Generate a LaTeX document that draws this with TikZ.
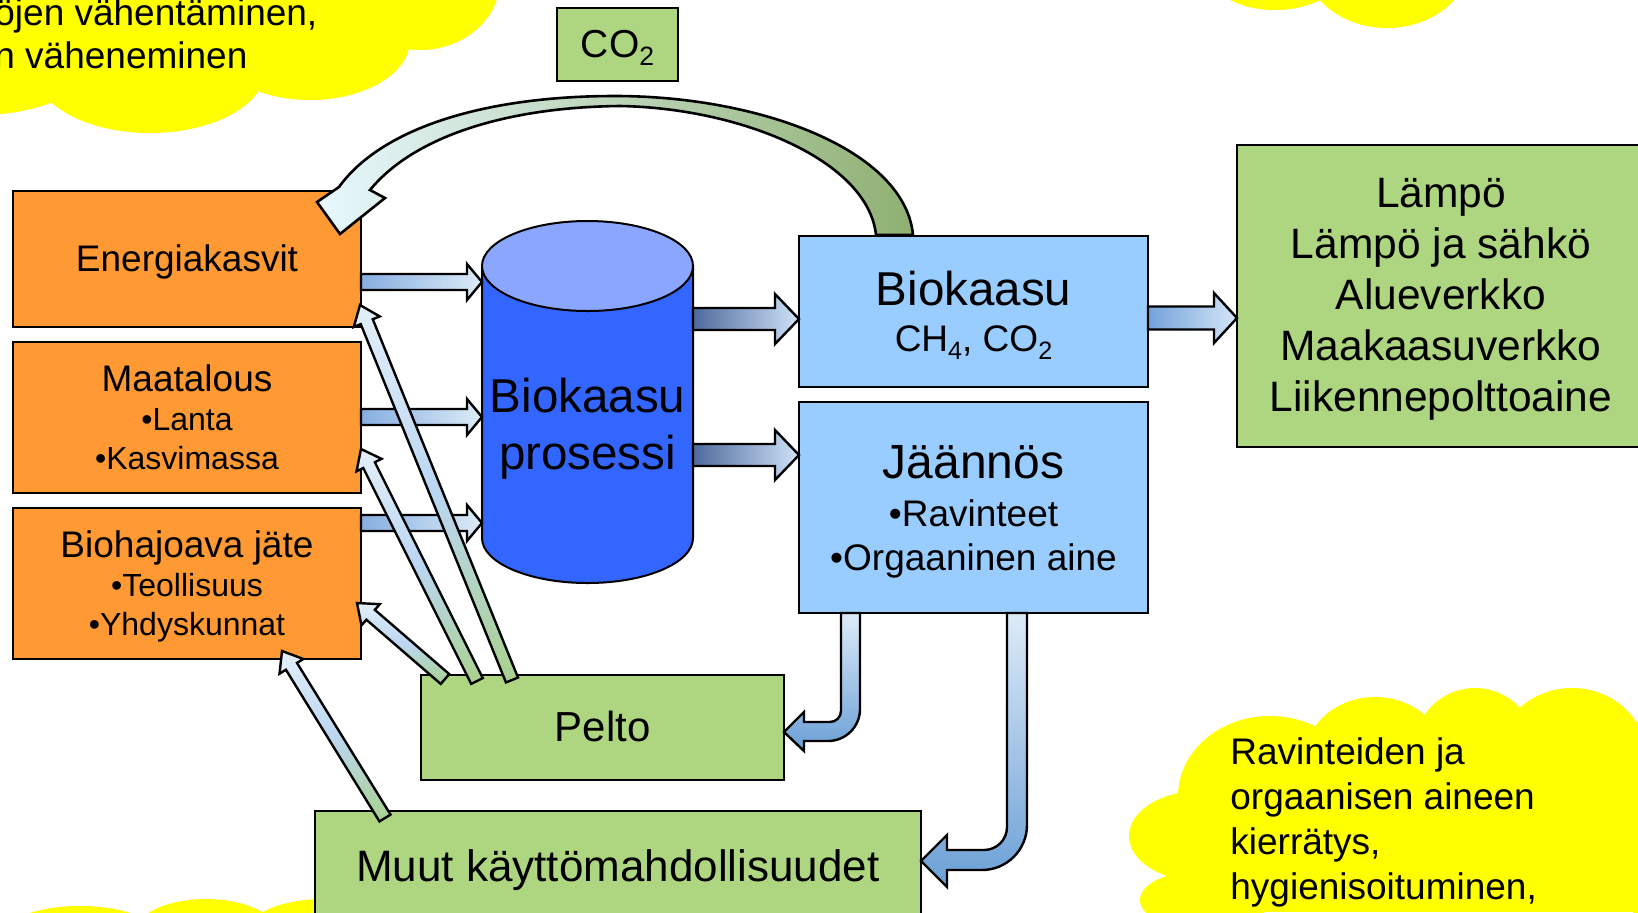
\documentclass[tikz,border=0pt]{standalone}
\usepackage{fontspec}
\setmainfont{Liberation Sans}
\usetikzlibrary{calc}
\definecolor{orng}{HTML}{FF9933}
\definecolor{lblue}{HTML}{99CCFF}
\definecolor{lgreen}{HTML}{AED580}
\definecolor{cylbody}{HTML}{3366FF}
\definecolor{cyltop}{HTML}{8AA6FF}
\definecolor{ylw}{HTML}{FFFF00}
\definecolor{arrA}{HTML}{86AEE0}
\definecolor{arrB}{HTML}{DDEBF8}
\definecolor{arrD}{HTML}{4E6A9C}
\definecolor{arrE}{HTML}{CFE2F7}
\definecolor{arrF}{HTML}{74A2DA}
\definecolor{arrG}{HTML}{D4E5F8}
\definecolor{dgT}{HTML}{E3EFFA}
\definecolor{dgM}{HTML}{BBD6F2}
\definecolor{dgB}{HTML}{A9D18E}
\definecolor{cuT}{HTML}{DDEBF8}
\definecolor{cuB}{HTML}{6A9FD6}
\definecolor{coL}{HTML}{E8F8FF}
\definecolor{coM}{HTML}{D3EBEF}
\definecolor{coR}{HTML}{8FB072}
\newcommand{\fs}[2]{\fontsize{#1}{#2}\selectfont}
\newcommand{\tst}{\rule{0pt}{0.9em}}
\newcommand{\bst}{\rule[-0.25em]{0pt}{0.25em}}
\newcommand{\sbs}[1]{\raisebox{-0.22em}{\scalebox{0.68}{#1}}}
\newcommand{\blockarr}[6]{%
  \coordinate (bah) at ($(#3)!#6!(#2)$);
  \path[#1] ($(#2)!#4!90:(#3)$) -- ($(bah)!#4!90:(#3)$) -- ($(bah)!#5!90:(#3)$) -- (#3)
    -- ($(bah)!#5!-90:(#3)$) -- ($(bah)!#4!-90:(#3)$) -- ($(#2)!#4!-90:(#3)$) -- cycle;}
\tikzset{
  bx/.style={draw=black, line width=1pt, inner sep=0pt, align=center, text=black},
  obox/.style={bx, fill=orng, minimum width=174pt},
  gbox/.style={bx, fill=lgreen},
  bbox/.style={bx, fill=lblue, minimum width=174.5pt},
  arr/.style={draw=black, line width=1.2pt, line join=miter},
  inarr/.style={arr, left color=arrA, right color=arrB},
  outarr/.style={arr, left color=arrD, right color=arrE},
  outarrb/.style={arr, left color=arrF, right color=arrG},
  diag/.style={arr, top color=dgT, bottom color=dgB, middle color=dgM},
  bendarr/.style={arr, top color=cuT, bottom color=cuB},
  cloudpart/.style={fill=ylw, draw=none},
  ctext/.style={anchor=base west, inner sep=0pt, font=\fs{18.5}{22}},
}
\begin{document}
\begin{tikzpicture}[x=0.5pt, y=-0.5pt]
\useasboundingbox (0,0) rectangle (1638,912);
\clip (0,0) rectangle (1638,912);
\fill[white] (0,0) rectangle (1638,912);
% clouds: top left
\path[cloudpart] (0,0) rectangle (400,60);
\path[cloudpart] (-20,40) ellipse [x radius=65pt, y radius=37.5pt];
\path[cloudpart] (150,70) ellipse [x radius=57.5pt, y radius=31.5pt];
\path[cloudpart] (310,40) ellipse [x radius=50pt, y radius=30pt];
\path[cloudpart] (420,-20) ellipse [x radius=40pt, y radius=35pt];
% top right
\path[cloudpart] (1275,-30) ellipse [x radius=34pt, y radius=20pt];
\path[cloudpart] (1387,-40) ellipse [x radius=41.5pt, y radius=34pt];
% bottom left
\path[cloudpart] (80,940) ellipse [x radius=41.5pt, y radius=17pt];
\path[cloudpart] (206,935) ellipse [x radius=36.5pt, y radius=18pt];
\path[cloudpart] (323,935) ellipse [x radius=39pt, y radius=18pt];
% bottom right
\path[cloudpart] (1200,770) rectangle (1638,912);
\path[cloudpart] (1205,900) ellipse [x radius=32.5pt, y radius=15pt];
\path[cloudpart] (1200,836) ellipse [x radius=35.5pt, y radius=22.5pt];
\path[cloudpart] (1270,796) ellipse [x radius=46pt, y radius=40pt];
\path[cloudpart] (1375,758) ellipse [x radius=35pt, y radius=30.5pt];
\path[cloudpart] (1475,752) ellipse [x radius=31pt, y radius=32pt];
\path[cloudpart] (1572,758) ellipse [x radius=37.5pt, y radius=35pt];
\path[cloudpart] (1660,820) ellipse [x radius=25pt, y radius=55pt];
% cloud texts
\node[ctext] (t1) at (-6,25) {öjen vähentäminen,};
\node[ctext] (t2) at (-6,68) {n väheneminen};
\node[ctext] (t3) at (1230,764) {Ravinteiden ja};
\node[ctext] (t4) at (1230,809) {orgaanisen aineen};
\node[ctext] (t5) at (1230,854) {kierrätys,};
\node[ctext] (t6) at (1230,899) {hygienisoituminen,};
% cylinder
\draw[line width=1pt, fill=cylbody] (482,266) -- (482,538) arc [start angle=180, end angle=360, x radius=52.75pt, y radius=22.5pt] -- (693,266) -- cycle;
\draw[line width=1pt, fill=cyltop] (587.5,266) ellipse [x radius=52.75pt, y radius=22.5pt];
\node[font=\fs{23.75}{28.5}, align=center, inner sep=0pt] (cyl) at (587.5,426) {\tst Biokaasu\\prosessi\bst};
% boxes
\node[obox, minimum height=68pt] (en) at (187,259) {\fs{18.5}{22}\tst Energiakasvit\bst};
\node[obox, minimum height=75.5pt, font=\fs{16}{19.5}] (ma) at (187,417.5) {{\fs{18.5}{19.5}\tst Maatalous}\\•Lanta\\•Kasvimassa\bst};
\node[obox, minimum height=75.5pt, font=\fs{16}{19.5}] (bj) at (187,583.5) {{\fs{18.5}{19.5}\tst Biohajoava jäte}\\•Teollisuus\\•Yhdyskunnat\bst};
\node[gbox, minimum width=60.5pt, minimum height=36.5pt] (co) at (617.5,44.5) {\fs{19.5}{22}\tst CO\sbs{2}\bst};
\node[bbox, minimum height=75.5pt, font=\fs{18.5}{23}] (bk) at (973.5,311.5) {{\fs{23.75}{23}\tst Biokaasu}\\CH\sbs{4}, CO\sbs{2}\bst};
\node[bbox, minimum height=105.5pt, font=\fs{18.5}{22}] (jn) at (973.5,507.5) {{\fs{24}{22}\tst Jäännös}\\[2pt]•Ravinteet\\•Orgaaninen aine\bst};
\node[gbox, minimum width=204pt, minimum height=151pt, font=\fs{21.25}{25.5}] (ht) at (1441,296) {\tst Lämpö\\Lämpö ja sähkö\\Alueverkko\\Maakaasuverkko\\Liikennepolttoaine\bst};
\node[gbox, minimum width=181.5pt, minimum height=52.5pt] (pe) at (602.5,727.5) {\fs{21}{24}\tst Pelto\bst};
\node[gbox, minimum width=303pt, minimum height=56.5pt] (mu) at (618,867.5) {\fs{22}{26}\tst Muut käyttömahdollisuudet\bst};
% input arrows
\coordinate (i1s) at (361,282); \coordinate (i1e) at (482,282);
\coordinate (i2s) at (361,417); \coordinate (i2e) at (482,417);
\coordinate (i3s) at (361,523); \coordinate (i3e) at (482,523);
\blockarr{inarr}{i1s}{i1e}{4pt}{9pt}{7.5pt}
\blockarr{inarr}{i2s}{i2e}{4pt}{9pt}{7.5pt}
\blockarr{inarr}{i3s}{i3e}{4pt}{9pt}{7.5pt}
% output arrows
\coordinate (o1s) at (693,319); \coordinate (o1e) at (799,319);
\coordinate (o2s) at (693,455); \coordinate (o2e) at (799,455);
\coordinate (o3s) at (1148,318); \coordinate (o3e) at (1237,318);
\blockarr{outarr}{o1s}{o1e}{5.5pt}{12.5pt}{12pt}
\blockarr{outarr}{o2s}{o2e}{5.5pt}{12.5pt}{12pt}
\blockarr{outarrb}{o3s}{o3e}{5.75pt}{12.5pt}{11.5pt}
% diagonal arrows from Pelto and Muut
\coordinate (d1s) at (512,680); \coordinate (d1e) at (360,305);
\coordinate (d2s) at (477,681); \coordinate (d2e) at (361,449);
\coordinate (d3s) at (445,679); \coordinate (d3e) at (357,603);
\coordinate (d4s) at (385,818); \coordinate (d4e) at (282,651);
\blockarr{diag}{d1s}{d1e}{3.25pt}{7pt}{9pt}
\blockarr{diag}{d2s}{d2e}{3.25pt}{7pt}{9pt}
\blockarr{diag}{d3s}{d3e}{3.25pt}{7pt}{9pt}
\blockarr{diag}{d4s}{d4e}{3.25pt}{7pt}{9pt}
% bent arrows from Jäännös
\path[bendarr] (841,613) -- (841,711) .. controls (841,717) and (836,722) .. (830,722) -- (804,722) -- (804,712) -- (784,732) -- (804,751) -- (804,741) -- (828,741) .. controls (845.7,741) and (860,726.7) .. (860,709) -- (860,613) -- cycle;
\path[bendarr] (1007,613) -- (1007,827) .. controls (1007,839.7) and (996.7,850) .. (984,850) -- (947,850) -- (947,835) -- (921,861) -- (947,887) -- (947,870) -- (982,870) .. controls (1006.8,870) and (1027,849.8) .. (1027,825) -- (1027,613) -- cycle;
% CO2 cycle arrow
\path[arr, line width=1.3pt, left color=coL, middle color=coM, right color=coR]
  (913,235) .. controls (905,150) and (760,96) .. (615,96)
  .. controls (480,96) and (380,130) .. (339,187)
  -- (317,202) -- (340,234) -- (385,198) -- (370,190)
  .. controls (415,135) and (510,107) .. (620,106)
  .. controls (740,108) and (868,160) .. (876,235) -- cycle;
\end{tikzpicture}
\end{document}
